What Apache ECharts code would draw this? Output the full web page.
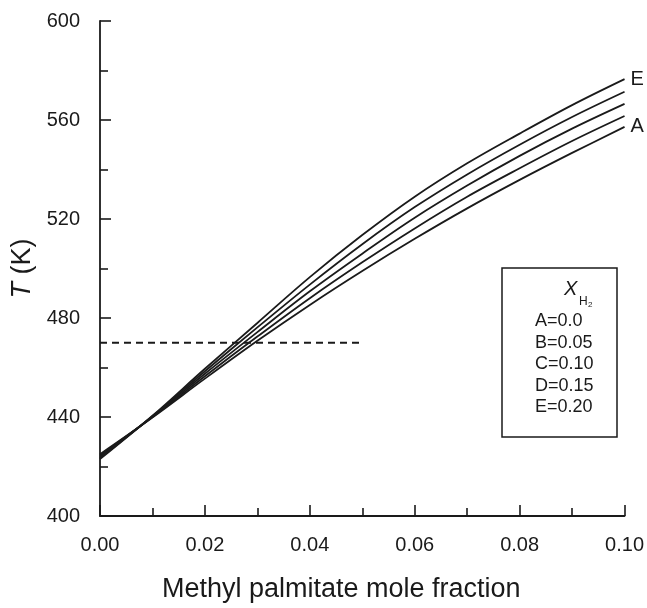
<!DOCTYPE html>
<html>
<head>
<meta charset="utf-8">
<script src="https://cdn.jsdelivr.net/npm/echarts@6/dist/echarts.min.js"></script>
<style>
  html, body { margin: 0; padding: 0; background: #fff; overflow: hidden; }
  #chart { width: 647px; height: 608px; }
</style>
</head>
<body>
<div id="chart"></div>
<script>
// Methyl palmitate mole fraction (x axis)
const moleFraction = [0, 0.01, 0.02, 0.03, 0.04, 0.05, 0.06, 0.07, 0.08, 0.09, 0.10];

// Temperature T (K) for each hydrogen mole fraction
const curveA = [425.0, 439.8, 455.5, 470.8, 485.3, 499.0, 512.0, 524.3, 535.8, 546.7, 557.2]; // X_H2 = 0.0
const curveB = [424.5, 440.0, 456.5, 472.5, 488.0, 502.5, 516.2, 529.0, 540.5, 551.5, 561.6]; // X_H2 = 0.05
const curveC = [424.0, 440.2, 457.5, 474.3, 490.8, 506.0, 520.5, 533.5, 545.5, 556.5, 566.5]; // X_H2 = 0.10
const curveD = [423.5, 440.3, 458.5, 476.2, 493.5, 509.8, 524.8, 538.0, 550.0, 561.2, 571.4]; // X_H2 = 0.15
const curveE = [423.0, 440.5, 459.5, 478.0, 496.5, 513.5, 529.0, 542.5, 554.5, 566.0, 576.5]; // X_H2 = 0.20

const curveNames = ['A', 'B', 'C', 'D', 'E'];
const curves = [curveA, curveB, curveC, curveD, curveE];

// Reference temperature line
const refX = [0, 0.05];
const refT = 470;

// Key text
const keyLines = ['A=0.0', 'B=0.05', 'C=0.10', 'D=0.15', 'E=0.20'];

const FONT = '"Liberation Sans", Arial, Helvetica, sans-serif';
const INK = '#1a1a1a';

const chart = echarts.init(document.getElementById('chart'), null, { renderer: 'canvas' });

const curveSeries = curves.map((vals, i) => ({
  name: curveNames[i],
  type: 'line',
  data: moleFraction.map((x, k) => [x, vals[k]]),
  smooth: 0.35,
  showSymbol: false,
  silent: true,
  lineStyle: { color: INK, width: 1.8 },
  endLabel: {
    show: curveNames[i] === 'A' || curveNames[i] === 'E',
    formatter: curveNames[i],
    color: INK,
    fontFamily: FONT,
    fontSize: 20,
    distance: 6
  },
  z: 3
}));

const refSeries = {
  name: 'ref',
  type: 'line',
  data: refX.map(x => [x, refT]),
  showSymbol: false,
  silent: true,
  lineStyle: { color: INK, width: 1.9, type: [7, 5] },
  z: 2
};

const keyLeft = 535, keyTop = 312, keyStep = 21.6;
const keyGraphics = [
  {
    type: 'rect',
    shape: { x: 502, y: 268, width: 115, height: 169 },
    style: { fill: '#fff', stroke: INK, lineWidth: 1.5 },
    z: 10
  },
  {
    type: 'text',
    left: 564, top: 279,
    style: { text: 'X', font: 'italic 20px ' + FONT, fill: INK },
    z: 11
  },
  {
    type: 'text',
    left: 579, top: 296,
    style: { text: 'H', font: '12px ' + FONT, fill: INK },
    z: 11
  },
  {
    type: 'text',
    left: 588, top: 301,
    style: { text: '2', font: '8px ' + FONT, fill: INK },
    z: 11
  }
].concat(keyLines.map((t, i) => ({
  type: 'text',
  left: keyLeft,
  top: keyTop + i * keyStep,
  style: { text: t, font: '18px ' + FONT, fill: INK },
  z: 11
})));

const option = {
  backgroundColor: '#fff',
  animation: false,
  grid: { left: 100, right: 22, top: 21, bottom: 85, containLabel: false },
  xAxis: {
    type: 'value',
    min: 0, max: 0.10, interval: 0.02,
    name: 'Methyl palmitate mole fraction',
    nameLocation: 'middle',
    nameGap: 60,
    nameTextStyle: { fontFamily: FONT, fontSize: 27, color: INK, padding: [0, 42, 0, 0] },
    axisLine: { show: true, lineStyle: { color: INK, width: 1.8 } },
    axisTick: { show: true, inside: true, length: 11, lineStyle: { color: INK, width: 1.6 } },
    minorTick: { show: true, splitNumber: 2, length: 8, lineStyle: { color: INK, width: 1.6 } },
    axisLabel: {
      fontFamily: FONT, fontSize: 20, color: INK, margin: 19,
      formatter: v => v.toFixed(2)
    },
    splitLine: { show: false }
  },
  yAxis: {
    type: 'value',
    min: 400, max: 600, interval: 40,
    name: '{i|T} (K)',
    nameLocation: 'middle',
    nameGap: 62,
    nameRotate: 90,
    nameTextStyle: {
      fontFamily: FONT, fontSize: 27, color: INK,
      rich: {
        i: { fontFamily: FONT, fontSize: 27, fontStyle: 'italic', color: INK }
      }
    },
    axisLine: { show: true, lineStyle: { color: INK, width: 1.8 } },
    axisTick: { show: true, inside: true, length: 11, lineStyle: { color: INK, width: 1.6 } },
    minorTick: { show: true, splitNumber: 2, length: 8, lineStyle: { color: INK, width: 1.6 } },
    axisLabel: { fontFamily: FONT, fontSize: 20, color: INK, margin: 20 },
    splitLine: { show: false }
  },
  series: curveSeries.concat([refSeries]),
  graphic: keyGraphics
};

chart.setOption(option);
</script>
</body>
</html>
